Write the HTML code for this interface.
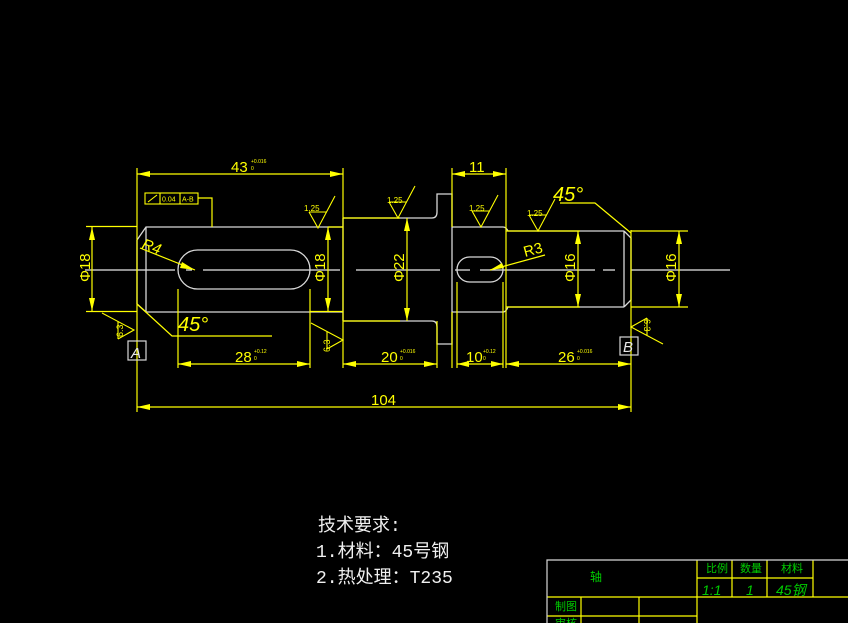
<!DOCTYPE html>
<html><head><meta charset="utf-8"><style>
html,body{margin:0;padding:0;background:#000;}
svg{display:block;}
text{font-family:"Liberation Sans","Noto Sans CJK SC",sans-serif;}
</style></head><body>
<svg width="848" height="623" viewBox="0 0 848 623" xmlns="http://www.w3.org/2000/svg">
<rect width="848" height="623" fill="#000"/>
<g stroke="#e8e8e8" stroke-width="1.2" fill="none">
<path d="M85 270 H175 M186 270 H192 M203 270 H340 M356 270 H440 M455 270 H470 M480 270 H595 M603 270 H615 M631 270 H730" />
</g>
<g stroke="#d8d8d8" stroke-width="1.3" fill="none">
<path d="M137 240 L146 227 H343 M137 304 L146 312 H343 M137 240 V304 M146 227 V312"/>
<rect x="178" y="250" width="132" height="39" rx="19.5"/>
<path d="M343 218 H432 Q437 218 437 212 V194 H452 V344 H437 V327 Q437 321 432 321 H343 M343 218 V321"/>
<path d="M452 227 H503 Q506 227 508 231 H624 M452 312 H503 Q506 312 508 307 H624"/>
<rect x="457" y="257" width="46" height="25" rx="12.5"/>
<path d="M624 231 V307 M624 231 L631 238 V300 L624 307"/>
</g>
<g stroke="#ffff00" stroke-width="1.2" fill="none">
<path d="M86 226.5 H137 M86 311.5 H137 M328 227 H343 M310 311.5 H343"/>
<path d="M343 218 H400 M343 321 H400"/>
<path d="M506 231 H580 M506 307 H580 M631 231 H688 M631 307 H688"/>
<path d="M137 168 V412 M343 168 V368 M452 168 V227 M506 168 V368 M178 289 V368 M310 289 V368 M437 321 V368 M452 312 V368 M457 282 V368 M503 282 V368 M631 230 V412"/>
<path d="M137 174 H343 M452 174 H506 M178 364 H310 M343 364 H437 M457 364 H503 M506 364 H631 M137 407 H631"/>
<path d="M92 226.5 V311.5 M328 227 V311.5 M407 218 V321 M578 231 V307 M679 231 V307"/>
<path d="M198 198 H212 V227"/>
<path d="M137 304 L172 336 H272"/>
<path d="M140 248 L195 270"/>
<path d="M490 270 L545 255"/>
<path d="M631 233 L595 203 H560"/>
</g>
<g fill="#ffff00">
<polygon points="137,174 150,171 150,177"/><polygon points="343,174 330,171 330,177"/>
<polygon points="452,174 465,171 465,177"/><polygon points="506,174 493,171 493,177"/>
<polygon points="178,364 191,361 191,367"/><polygon points="310,364 297,361 297,367"/>
<polygon points="343,364 356,361 356,367"/><polygon points="437,364 424,361 424,367"/>
<polygon points="457,364 469,361 469,367"/><polygon points="503,364 491,361 491,367"/>
<polygon points="506,364 519,361 519,367"/><polygon points="631,364 618,361 618,367"/>
<polygon points="137,407 150,404 150,410"/><polygon points="631,407 618,404 618,410"/>
<polygon points="92,227 89,240 95,240"/><polygon points="92,311 89,298 95,298"/>
<polygon points="328,227 325,240 331,240"/><polygon points="328,311 325,298 331,298"/>
<polygon points="407,218 404,231 410,231"/><polygon points="407,321 404,308 410,308"/>
<polygon points="578,231 575,244 581,244"/><polygon points="578,307 575,294 581,294"/>
<polygon points="679,231 676,244 682,244"/><polygon points="679,307 676,294 682,294"/>
<polygon points="195,270 182,262 180,268"/>
<polygon points="490,270 502,263 504,268"/>
</g>
<g stroke="#ffff00" stroke-width="1.1" fill="none">
<g transform="translate(318,228)"><path d="M-9,-16 L0,0 L17,-32 M-9,-16 H9"/></g>
<g transform="translate(398,218)"><path d="M-9,-16 L0,0 L17,-32 M-9,-16 H9"/></g>
<g transform="translate(481,227)"><path d="M-9,-16 L0,0 L17,-32 M-9,-16 H9"/></g>
<g transform="translate(538,231)"><path d="M-9,-16 L0,0 L17,-32 M-9,-16 H9"/></g>
<g transform="translate(134,330) rotate(-90)"><path d="M-9,-16 L0,0 L17,-32 M-9,-16 H9"/></g>
<g transform="translate(343,340) rotate(-90)"><path d="M-9,-16 L0,0 L17,-32 M-9,-16 H9"/></g>
<g transform="translate(631,327) rotate(90)"><path d="M-9,-16 L0,0 L17,-32 M-9,-16 H9"/></g>
</g>
<g fill="#ffff00" font-size="8">
<text x="304" y="211">1.25</text><text x="387" y="203">1.25</text>
<text x="469" y="211">1.25</text><text x="527" y="216">1.25</text>
<text transform="translate(123,337) rotate(-90)" font-size="9">6.3</text>
<text transform="translate(330,352) rotate(-90)" font-size="9">6.3</text>
<text transform="translate(644,319) rotate(90)" font-size="9">6.3</text>
</g>
<g stroke="#ffff00" stroke-width="1.1" fill="none">
<rect x="145" y="193" width="53" height="11"/><path d="M160 193 V204 M180 193 V204 M148 202 L157 195"/>
</g>
<g fill="#ffff00" font-size="7"><text x="162" y="201.5">0.04</text><text x="182" y="201.5">A-B</text></g>
<g stroke="#d8d8d8" stroke-width="1.2" fill="none"><rect x="128" y="341" width="18" height="19"/><rect x="620" y="337" width="18" height="18"/></g>
<g fill="#e8e8e8" font-size="15" font-style="italic"><text x="131" y="358">A</text><text x="623" y="352">B</text></g>
<g fill="#ffff00" font-size="15">
<text x="231" y="172">43</text><text x="469" y="172">11</text>
<text x="235" y="362">28</text><text x="381" y="362">20</text><text x="466" y="362">10</text><text x="558" y="362">26</text>
<text x="371" y="405">104</text>
<text x="141" y="248" font-style="italic" font-size="15" transform="rotate(20 141 248)">R4</text>
<text x="525" y="257" font-size="15" transform="rotate(-15 525 257)">R3</text>
<text x="178" y="331" font-size="20" font-style="italic">45°</text>
<text x="553" y="201" font-size="20" font-style="italic">45°</text>
<text transform="translate(90,282) rotate(-90)">Φ18</text>
<text transform="translate(325,282) rotate(-90)">Φ18</text>
<text transform="translate(404,282) rotate(-90)">Φ22</text>
<text transform="translate(575,282) rotate(-90)">Φ16</text>
<text transform="translate(676,282) rotate(-90)">Φ16</text>
</g>
<g fill="#ffff00" font-size="5">
<text x="251" y="163">+0.016</text><text x="251" y="170">0</text>
<text x="254" y="353">+0.12</text><text x="254" y="360">0</text>
<text x="400" y="353">+0.016</text><text x="400" y="360">0</text>
<text x="483" y="353">+0.12</text><text x="483" y="360">0</text>
<text x="577" y="353">+0.016</text><text x="577" y="360">0</text>
</g>
<g fill="#f0f0f0" font-size="18">
<text x="318" y="531" style="font-family:'Liberation Mono','Noto Sans CJK SC',monospace">技术要求:</text>
<text x="316" y="557" style="font-family:'Liberation Mono','Noto Sans CJK SC',monospace">1.材料：45号钢</text>
<text x="316" y="583" style="font-family:'Liberation Mono','Noto Sans CJK SC',monospace">2.热处理：T235</text>
</g>
<g stroke="#ffff00" stroke-width="1.2" fill="none">
<path d="M697 560 V623 M732 560 V597 M767 560 V597 M813 560 V597 M697 578 H813 M547 597 H848 M547 616 H697 M581 597 V623 M639 597 V623"/>
</g>
<path d="M547 623 V560 H848" stroke="#d8d8d8" stroke-width="1.2" fill="none"/>
<g fill="#00cc00" font-size="11">
<text x="590" y="581" font-size="12">轴</text>
<text x="706" y="572">比例</text><text x="740" y="572">数量</text><text x="781" y="572">材料</text>
<text x="702" y="595" font-size="14" font-style="italic">1:1</text>
<text x="746" y="595" font-size="14" font-style="italic">1</text>
<text x="776" y="595" font-size="14" font-style="italic">45钢</text>
<text x="555" y="610">制图</text><text x="555" y="627">审核</text>
</g>
</svg>
</body></html>
